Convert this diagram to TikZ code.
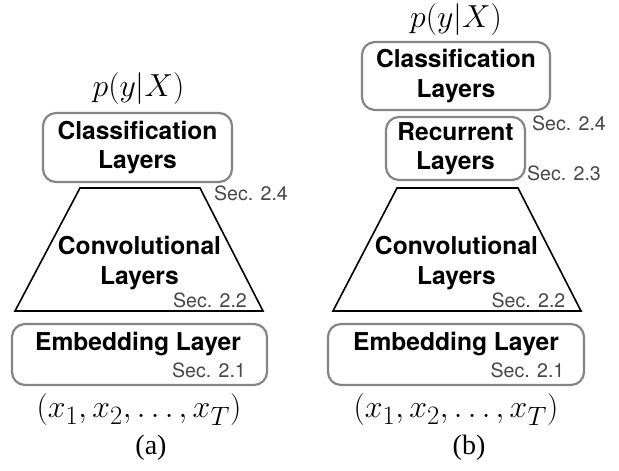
\documentclass[tikz,border=0pt]{standalone}
\usepackage{fontspec}
\setsansfont{TeX Gyre Heros}
\newfontfamily\capfont{Liberation Serif}
\newcommand{\bigmath}[1]{\scalebox{1.28}{\fontsize{24.88}{30}\selectfont$#1$}}
\begin{document}
\begin{tikzpicture}[x=1pt,y=-1pt,
  box/.style={draw=black!48, line width=2.2pt, rounded corners=13pt, align=center,
    font=\sffamily\bfseries\fontsize{24.6}{29.5}\selectfont, inner sep=0pt},
  lbl/.style={font=\sffamily\bfseries\fontsize{24.6}{29.5}\selectfont, align=center, inner sep=0pt},
  sec/.style={font=\sffamily\fontsize{19.6}{22}\selectfont, text=black!72, inner sep=0pt},
  mth/.style={inner sep=0pt},
  captext/.style={font=\capfont\fontsize{28}{32}\selectfont, inner sep=0pt},
  trap/.style={draw=black, line width=1.6pt, line join=miter}]
\useasboundingbox[fill=white] (0,0) rectangle (619,471);

% ---------- panel (a) ----------
\node[mth] (pA) at (138.5,88.5) {\bigmath{p(y|X)}};
\node[box, minimum width=189pt, minimum height=69pt] (clsA) at (137.5,147.5) {Classification\\Layers};
\node[sec] (s24A) at (251,193) {Sec. 2.4};
\draw[trap] (80,188) -- (200,188) -- (263,311) -- (15,311) -- cycle;
\node[lbl] (convA) at (139.5,263) {Convolutional\\Layers};
\node[sec] (s22A) at (210,300) {Sec. 2.2};
\node[box, minimum width=255pt, minimum height=61pt] (embA) at (139.5,354.5) {};
\node[lbl] (embAt) at (138,343.7) {Embedding Layer};
\node[sec] (s21A) at (209,370) {Sec. 2.1};
\node[mth] (xA) at (139,410) {\bigmath{(x_1,x_2,\ldots,x_T)}};
\node[captext] (capA) at (151,448) {(a)};

% ---------- panel (b) ----------
\node[mth] (pB) at (456,19.5) {\bigmath{p(y|X)}};
\node[box, minimum width=188pt, minimum height=68pt] (clsB) at (456,76) {Classification\\Layers};
\node[sec] (s24B) at (569,123) {Sec. 2.4};
\node[box, minimum width=139pt, minimum height=63pt] (recB) at (455.5,148.5) {Recurrent\\Layers};
\node[sec] (s23B) at (564,173) {Sec. 2.3};
\draw[trap] (397,188) -- (518,188) -- (581,311) -- (333,311) -- cycle;
\node[lbl] (convB) at (456.5,263) {Convolutional\\Layers};
\node[sec] (s22B) at (528.5,300) {Sec. 2.2};
\node[box, minimum width=256pt, minimum height=61pt] (embB) at (456,354.5) {};
\node[lbl] (embBt) at (456,343.7) {Embedding Layer};
\node[sec] (s21B) at (527.5,370) {Sec. 2.1};
\node[mth] (xB) at (456,410) {\bigmath{(x_1,x_2,\ldots,x_T)}};
\node[captext] (capB) at (469,448) {(b)};
\end{tikzpicture}
\end{document}
